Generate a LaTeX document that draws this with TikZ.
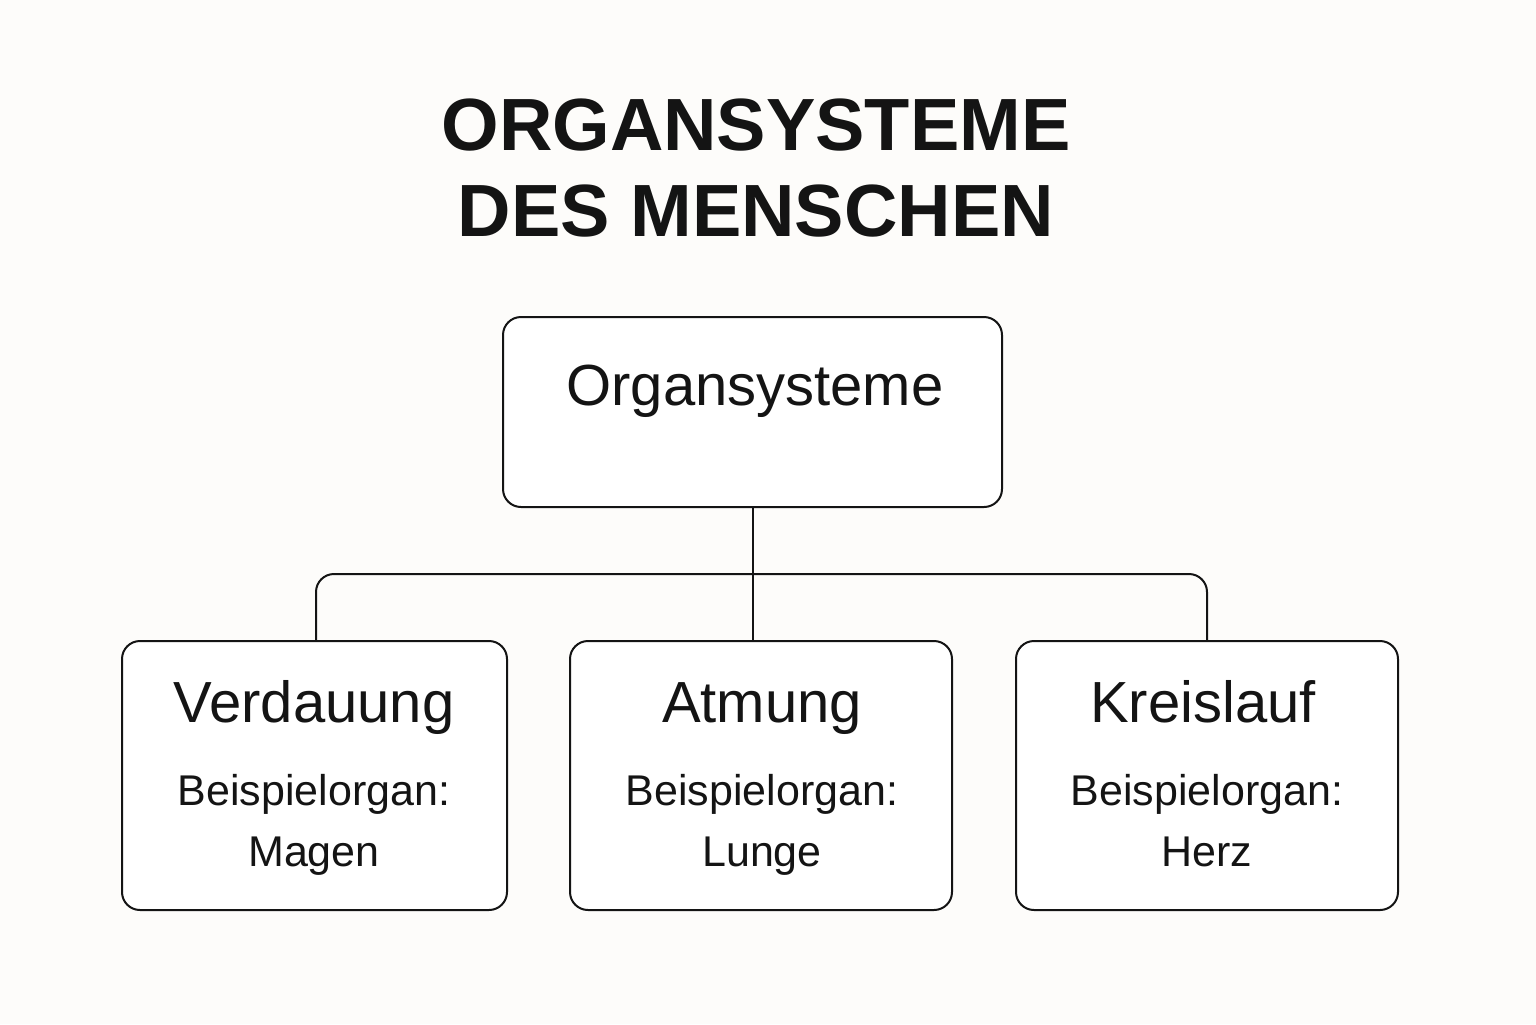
\documentclass[tikz,border=0pt]{standalone}
\usepackage{fontspec}
\setmainfont{Liberation Sans}
\usetikzlibrary{positioning}
\definecolor{bgcol}{HTML}{FDFCFA}
\definecolor{ink}{HTML}{141414}
\tikzset{
  box/.style={draw=ink, line width=1pt, rounded corners=9pt, fill=white},
  head/.style={ink, anchor=base, font=\fontsize{29}{34}\selectfont},
  sub/.style={ink, anchor=base, font=\fontsize{21.5}{24}\selectfont},
  link/.style={draw=ink, line width=1pt, rounded corners=9pt}
}
\begin{document}
\begin{tikzpicture}[x=0.5pt, y=-0.5pt]
\fill[bgcol] (0,0) rectangle (1536,1024);
\useasboundingbox (0,0) rectangle (1536,1024);

%% title
\node[ink, align=center, font=\bfseries\fontsize{37}{43}\selectfont] (title) at (756,168) {ORGANSYSTEME\\DES MENSCHEN};

%% top box
\node[box, minimum width=249.5pt, minimum height=95pt] (root) at (752.5,412) {};
\node[head] (roottxt) at (755,405) {Organsysteme};

%% bottom boxes
\node[box, minimum width=192.5pt, minimum height=134.5pt] (verd) at (314.5,775.5) {};
\node[box, minimum width=191pt, minimum height=134.5pt] (atm) at (761,775.5) {};
\node[box, minimum width=191pt, minimum height=134.5pt] (kreis) at (1207,775.5) {};

\node[head] at (314,722) {Verdauung};
\node[sub] at (314,805) {Beispielorgan:};
\node[sub] at (314,866) {Magen};
\node[head] at (762,722) {Atmung};
\node[sub] at (762,805) {Beispielorgan:};
\node[sub] at (762,866) {Lunge};
\node[head] at (1203,722) {Kreislauf};
\node[sub] at (1207,805) {Beispielorgan:};
\node[sub] at (1207,866) {Herz};

%% connectors
\path[link] (root.south) -- (root.south |- atm.north);
\path[link] (verd.north -| 316,0) -- (316,574) -- (1207,574) -- (kreis.north -| 1207,0);
\end{tikzpicture}
\end{document}
